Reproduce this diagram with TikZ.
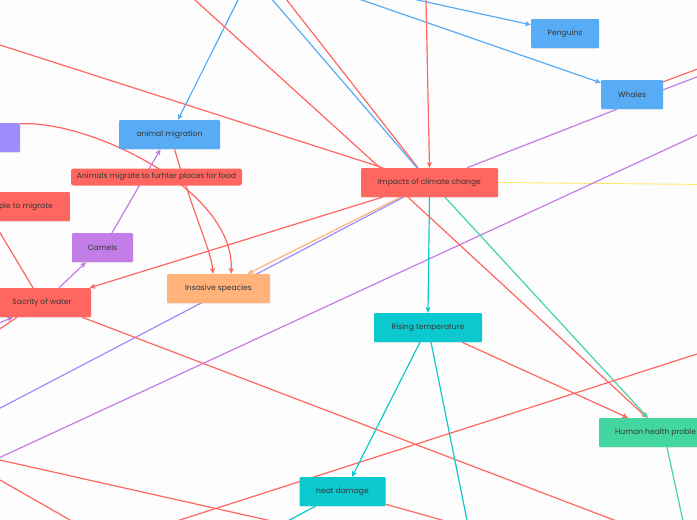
\documentclass[tikz,border=0pt]{standalone}
\usepackage{fontspec}
\setmainfont{Poppins}
\usepackage{xcolor}
\usepackage{tikz}
\usetikzlibrary{arrows.meta, shadows}

\definecolor{mapbg}{HTML}{FDFDFD}
\definecolor{maptext}{HTML}{363636}
\definecolor{mapred}{HTML}{FF6660}
\definecolor{mapblue}{HTML}{58ACF5}
\definecolor{mappurple}{HTML}{C27DE6}
\definecolor{maplavender}{HTML}{9D8CFC}
\definecolor{maporange}{HTML}{FFB27A}
\definecolor{mapcyan}{HTML}{0BC9CF}
\definecolor{mapgreen}{HTML}{44D6A0}
\definecolor{mapyellow}{HTML}{FFE96B}

\pgfdeclarelayer{bg}
\pgfsetlayers{bg,main}

\begin{document}
\begin{tikzpicture}[
    x=1pt, y=-1pt,
    every node/.style={font=\fontsize{7.6}{9}\selectfont, text=maptext},
    box/.style={rectangle, rounded corners=1pt, minimum height=29pt, inner xsep=2pt,
        drop shadow={shadow xshift=0pt, shadow yshift=-1.2pt, opacity=0.12}},
    tagbox/.style={rectangle, rounded corners=2.5pt, fill=mapred, minimum height=17pt, inner xsep=2pt},
    link/.style={line width=1.2pt},
    arr/.style={link, -{Stealth[length=5.5pt, width=5pt, inset=1pt]}}
]
\useasboundingbox (0,0) rectangle (697,520);
\clip (0,0) rectangle (697,520);

\node[box, fill=mapblue, minimum width=68pt] (penguins) at (565,33.5) {Penguins};
\node[box, fill=mapblue, minimum width=62pt] (whales) at (632,94.5) {Whales};
\node[box, fill=mapblue, minimum width=101pt] (animalmig) at (169.5,134.5) {animal migration};
\node[box, fill=maplavender, minimum width=60pt] (lavnode) at (-10,137.5) {};
\node[box, fill=mapred, minimum width=137pt] (impacts) at (429.5,182.5) {Impacts of climate change};
\node[tagbox, minimum width=171pt] (foodmig) at (156.5,177) {Animals migrate to furhter places for food};
\node[box, fill=mapred, anchor=east, inner xsep=17pt] (peoplemig) at (70,206.5) {ple to migrate};
\node[box, fill=mappurple, minimum width=61pt] (camels) at (102.5,247.5) {Camels};
\node[box, fill=mapred, minimum width=98pt] (sacrity) at (42,302.5) {Sacrity of water};
\node[box, fill=maporange, minimum width=103pt] (insasive) at (218.5,288.5) {Insasive speacies};
\node[box, fill=mapcyan, minimum width=108pt] (rising) at (428,327.5) {Rising temperature};
\node[box, fill=mapgreen, anchor=west, inner xsep=16pt] (health) at (599,432.5) {Human health proble};
\node[box, fill=mapcyan, minimum width=86pt] (heat) at (342.5,491.5) {heat damage};

\coordinate (offA) at (243,-10);
\coordinate (offB) at (333,-10);
\coordinate (offC) at (372,-10);
\coordinate (offD) at (425.8,-10);
\coordinate (offE) at (279,-10);
\coordinate (offF) at (264,-10);
\coordinate (offG) at (184,-10);
\coordinate (offH) at (-10,41.8);
\coordinate (offJa) at (723,59.5);
\coordinate (offJb) at (723,67);
\coordinate (offK) at (710,184.5);
\coordinate (offLa) at (710,129);
\coordinate (offLb) at (-10,462);
\coordinate (offR) at (-10,413.4);
\coordinate (offW) at (-10,216);
\coordinate (offXa) at (-10,327);
\coordinate (offXb) at (-10,335.5);
\coordinate (offY) at (660,537.6);
\coordinate (offZa) at (-10,457.8);
\coordinate (offZb) at (300,527.4);
\coordinate (offAAa) at (-10,474.3);
\coordinate (offAAb) at (90,531.4);
\coordinate (offABa) at (150,529.6);
\coordinate (offABb) at (720,346.6);
\coordinate (offAD) at (470,535);
\coordinate (offAF) at (470,528);
\coordinate (offAG) at (280,525);
\coordinate (offAH) at (686,535);

\begin{pgfonlayer}{bg}
\fill[mapbg] (0,0) rectangle (697,520);
\clip (0,0) rectangle (697,520);

\draw[arr, mapblue] (offA) -- ([xshift=8.5pt]animalmig.north);
\draw[arr, mapblue] (offB) -- ([yshift=-3pt]whales.north west);
\draw[arr, mapblue] (offC) -- ([yshift=-6pt]penguins.north west);
\draw[arr, mapred] (offD) -- (impacts.north);
\draw[link, mapred] ([xshift=-11.5pt]impacts.north) -- (offE);
\draw[link, mapblue] ([xshift=-12.5pt]impacts.north) -- (offF);
\draw[link, mapred] ([xshift=-49.5pt]impacts.north) -- (offG);
\draw[link, mapred] ([xshift=-46.5pt]impacts.north) -- (offH);
\draw[link, mappurple] ([xshift=37.5pt]impacts.north) -- ([xshift=-15pt]whales.south);
\draw[link, mapred] ([yshift=-2pt]whales.north east) -- (offJa);
\draw[link, mappurple] ([yshift=-10pt]whales.north east) -- (offJb);
\draw[link, mapyellow, line width=0.9pt] (impacts.east) -- (offK);
\draw[link, mappurple] (offLa) -- (offLb);
\draw[arr, mapcyan] (impacts.south) -- (rising.north);
\draw[arr, mapred] ([xshift=-21.5pt]impacts.south) -- ([xshift=48pt]health.north west);
\draw[arr, mapgreen] ([xshift=15.5pt]impacts.south) -- ([xshift=49pt]health.north west);
\draw[arr, mapred] ([xshift=-47pt]impacts.south) -- (sacrity);
\draw[arr, maporange] ([xshift=-29pt]impacts.south) -- (insasive);
\draw[link, maplavender] ([xshift=-26pt]impacts.south) -- (offR);
\draw[arr, mapred] ([yshift=-1pt]lavnode.north east) .. controls (90,120) and (235,190) .. ([xshift=12.5pt]insasive.north);
\draw[arr, mapred] ([xshift=5pt]animalmig.south) .. controls (196,222) and (211,250) .. ([xshift=-5.5pt]insasive.north);
\draw[arr, mappurple] ([xshift=9.5pt]camels.north) -- ([xshift=-9pt]animalmig.south);
\draw[arr, mappurple] ([xshift=17pt]sacrity.north) -- ([xshift=-16.5pt]camels.south);
\draw[link, mapred] ([xshift=-9pt]sacrity.north) -- (offW);
\draw[arr, mappurple] (offXa) -- ([xshift=-29pt]sacrity.south);
\draw[link, mapred] ([xshift=-25pt]sacrity.south) -- (offXb);
\draw[link, mapred] ([xshift=40pt]sacrity.south) -- (offY);
\draw[link, mapred] (offZa) -- (offZb);
\draw[link, mapred] (offAAa) -- (offAAb);
\draw[link, mapred] (offABa) -- (offABb);
\draw[arr, mapcyan] ([xshift=-8pt]rising.south) -- ([xshift=9.5pt]heat.north);
\draw[link, mapcyan] ([xshift=3pt]rising.south) -- (offAD);
\draw[arr, mapred] ([xshift=34pt]rising.south) -- ([xshift=29pt]health.north west);
\draw[link, mapred] ([yshift=2pt]heat.south east) -- (offAF);
\draw[link, mapcyan] ([xshift=-27pt]heat.south) -- (offAG);
\draw[link, mapgreen] ([xshift=68pt]health.south west) -- (offAH);
\end{pgfonlayer}
\end{tikzpicture}
\end{document}
